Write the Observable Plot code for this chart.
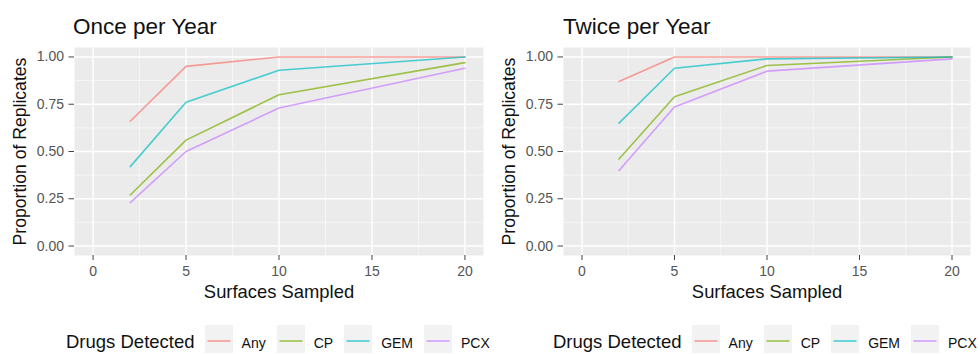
<!DOCTYPE html>
<html>
<head>
<meta charset="utf-8">
<script src="https://cdn.jsdelivr.net/npm/d3@7"></script>
<script src="https://cdn.jsdelivr.net/npm/@observablehq/plot@0.6"></script>
<style>
  html, body { margin: 0; padding: 0; background: #ffffff; }
  body { font-family: "Liberation Sans", Arial, sans-serif; }
  #wrap { position: relative; width: 980px; height: 354px; overflow: hidden; }
  .panel { position: absolute; top: 0; width: 490px; height: 354px; }
  .title { position: absolute; top: 16px; font-size: 22.5px; line-height: 1; color: #111; white-space: nowrap; }
  .plotbox { position: absolute; top: 40px; left: 0; }
  .legend { position: absolute; top: 325px; height: 28px; display: flex; align-items: flex-start; white-space: nowrap; }
  .ltitle { font-size: 18.5px; line-height: 1; margin-top: 8px; color: #111; }
  .key { display: block; }
  .llabel { font-size: 14px; line-height: 1; margin-top: 11px; color: #111; }
</style>
</head>
<body>
<div id="wrap"></div>
<script>
// ---- data ----
const drugs = ["Any", "CP", "GEM", "PCX"];
const colors = ["#F8766D", "#7CAE00", "#00BFC4", "#C77CFF"];
const surfaces = [2, 5, 10, 20];

// Once per Year
const onceAny = [0.66, 0.95, 1.00, 1.00];
const onceCP  = [0.27, 0.56, 0.80, 0.97];
const onceGEM = [0.42, 0.76, 0.93, 1.00];
const oncePCX = [0.23, 0.50, 0.73, 0.94];

// Twice per Year
const twiceAny = [0.87, 1.00, 1.00, 1.00];
const twiceCP  = [0.46, 0.79, 0.955, 1.00];
const twiceGEM = [0.65, 0.94, 0.99, 1.00];
const twicePCX = [0.40, 0.735, 0.925, 0.99];

const xTicks = [0, 5, 10, 15, 20];
const xMinor = [2.5, 7.5, 12.5, 17.5];
const yTicks = [0, 0.25, 0.5, 0.75, 1];
const yMinor = [0.125, 0.375, 0.625, 0.875];

const titles = ["Once per Year", "Twice per Year"];
const xLabel = "Surfaces Sampled";
const yLabel = "Proportion of Replicates";
const legendTitle = "Drugs Detected";

function toRows(series) {
  const rows = [];
  drugs.forEach((d, i) => {
    series[i].forEach((v, j) => rows.push({drug: d, n: surfaces[j], p: v}));
  });
  return rows;
}
const panelsData = [
  toRows([onceAny, onceCP, onceGEM, oncePCX]),
  toRows([twiceAny, twiceCP, twiceGEM, twicePCX])
];

const layout = [
  {left: 0, marginLeft: 74, marginRight: 7, titleLeft: 73, legendLeft: 66},
  {left: 490, marginLeft: 73, marginRight: 10, titleLeft: 73, legendLeft: 63}
];

const wrap = document.getElementById("wrap");

panelsData.forEach((rows, k) => {
  const L = layout[k];
  const panel = document.createElement("div");
  panel.className = "panel";
  panel.style.left = L.left + "px";
  wrap.appendChild(panel);

  const t = document.createElement("div");
  t.className = "title";
  t.style.left = L.titleLeft + "px";
  t.textContent = titles[k];
  panel.appendChild(t);

  const chart = Plot.plot({
    width: 490,
    height: 265,
    marginTop: 7,
    marginBottom: 50,
    marginLeft: L.marginLeft,
    marginRight: L.marginRight,
    style: {fontFamily: "'Liberation Sans', Arial, sans-serif", background: "transparent", overflow: "visible"},
    x: {domain: [-1, 21]},
    y: {domain: [-0.05, 1.05]},
    color: {domain: drugs, range: colors},
    marks: [
      Plot.frame({fill: "#EBEBEB", stroke: "none"}),
      Plot.gridX(xMinor, {stroke: "#ffffff", strokeOpacity: 0.8, strokeWidth: 0.7}),
      Plot.gridY(yMinor, {stroke: "#ffffff", strokeOpacity: 0.8, strokeWidth: 0.7}),
      Plot.gridX(xTicks, {stroke: "#ffffff", strokeOpacity: 1, strokeWidth: 1.4}),
      Plot.gridY(yTicks, {stroke: "#ffffff", strokeOpacity: 1, strokeWidth: 1.4}),
      Plot.line(rows, {x: "n", y: "p", z: "drug", stroke: "drug", strokeWidth: 1.6, strokeOpacity: 0.7}),
      Plot.axisX(xTicks, {tickSize: 5, tickPadding: 6, fontSize: 14, fill: "#555555", stroke: "#444444", label: null}),
      Plot.axisY(yTicks, {tickSize: 5.5, tickPadding: 5, fontSize: 14, fill: "#555555", stroke: "#444444",
                          tickFormat: d3.format(".2f"), label: null}),
      Plot.text([xLabel], {frameAnchor: "bottom", lineAnchor: "middle", textAnchor: "middle", dy: 36.6, fontSize: 18.4, fill: "#111"}),
      Plot.text([yLabel], {frameAnchor: "left", lineAnchor: "middle", textAnchor: "middle", rotate: -90, dx: -54, fontSize: 17.6, fill: "#111"})
    ]
  });
  const box = document.createElement("div");
  box.className = "plotbox";
  box.appendChild(chart);
  panel.appendChild(box);

  // legend built from the plot's color scale
  const cs = chart.scale("color");
  const leg = document.createElement("div");
  leg.className = "legend";
  leg.style.left = L.legendLeft + "px";
  const lt = document.createElement("span");
  lt.className = "ltitle";
  lt.textContent = legendTitle;
  leg.appendChild(lt);
  cs.domain.forEach((d, i) => {
    const svg = d3.create("svg").attr("class", "key").attr("width", 28).attr("height", 28)
      .style("margin-left", (i === 0 ? 10 : 11) + "px");
    svg.append("rect").attr("width", 28).attr("height", 28).attr("fill", "#F2F2F2");
    svg.append("line").attr("x1", 2.5).attr("x2", 25.5).attr("y1", 16).attr("y2", 16)
      .attr("stroke", cs.range[i]).attr("stroke-width", 1.6).attr("stroke-opacity", 0.7);
    leg.appendChild(svg.node());
    const lab = document.createElement("span");
    lab.className = "llabel";
    lab.style.marginLeft = "9px";
    lab.textContent = d;
    leg.appendChild(lab);
  });
  panel.appendChild(leg);
});
</script>
</body>
</html>
